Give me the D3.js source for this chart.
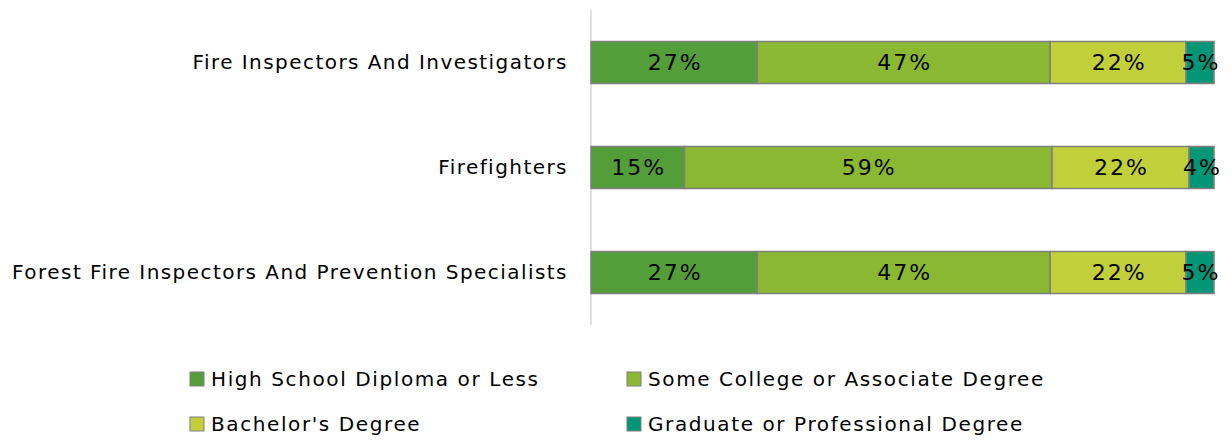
<!DOCTYPE html>
<html>
<head>
<meta charset="utf-8">
<script src="https://cdn.jsdelivr.net/npm/d3@7"></script>
<style>
  body { margin: 0; background: #fff; }
  svg text { font-family: "Century Gothic", "DejaVu Sans", sans-serif; fill: #000; }
</style>
</head>
<body>
<div id="chart"></div>
<script>
// dane
var categories = ["Fire Inspectors And Investigators", "Firefighters", "Forest Fire Inspectors And Prevention Specialists"];
var seriesNames = ["High School Diploma or Less", "Some College or Associate Degree", "Bachelor's Degree", "Graduate or Professional Degree"];
var highSchool = [26.8, 15.0, 26.8];
var someCollege = [47.2, 59.0, 47.2];
var bachelor = [21.9, 22.0, 21.9];
var graduate = [4.5, 4.0, 4.5];
var colors = ["#549E39", "#8AB833", "#C0CF3A", "#029676"];

var W = 1232, H = 440;
var margin = {top: 10, right: 18, bottom: 115, left: 591},
    width = W - margin.left - margin.right,
    height = H - margin.top - margin.bottom;

var rows = categories.map(function(c, i) {
  return {cat: c, s0: highSchool[i], s1: someCollege[i], s2: bachelor[i], s3: graduate[i]};
});
var keys = ["s0", "s1", "s2", "s3"];
var stacked = d3.stack().keys(keys).offset(d3.stackOffsetExpand)(rows);

var svg = d3.select("#chart").append("svg")
    .attr("width", W).attr("height", H);
var g = svg.append("g")
    .attr("transform", "translate(" + margin.left + "," + margin.top + ")");

var x = d3.scaleLinear().domain([0, 1]).range([0, 623]);
var y = d3.scaleBand().domain(categories).range([0, height]).paddingInner(0.6).paddingOuter(0.3);

// os Y
var yAxis = g.append("g").call(d3.axisLeft(y).tickSize(0).tickPadding(23));
yAxis.select(".domain").remove();
yAxis.selectAll("text").style("font-size", "20px").style("letter-spacing", "1.45px");
g.append("line")
  .attr("x1", 0).attr("x2", 0).attr("y1", 0).attr("y2", height)
  .attr("stroke", "#d9d9d9").attr("stroke-width", 1.5);

// slupki
var layer = g.selectAll(".layer").data(stacked).enter().append("g")
  .attr("fill", function(d, i) { return colors[i]; });

layer.selectAll("rect").data(function(d) { return d; }).enter().append("rect")
  .attr("x", function(d) { return x(d[0]); })
  .attr("y", function(d) { return y(d.data.cat); })
  .attr("width", function(d) { return x(d[1]) - x(d[0]); })
  .attr("height", y.bandwidth())
  .attr("stroke", "#7f7f7f").attr("stroke-width", 1.5);

layer.selectAll("text").data(function(d) {
    return d.map(function(p) { return {p: p, key: d.key}; });
  }).enter().append("text")
  .attr("x", function(d) { return (x(d.p[0]) + x(d.p[1])) / 2 + 1; })
  .attr("y", function(d) { return y(d.p.data.cat) + y.bandwidth() / 2; })
  .attr("dy", "0.36em")
  .attr("text-anchor", "middle")
  .style("font-size", "22px")
  .style("letter-spacing", "2px")
  .text(function(d) { return Math.round(d.p.data[d.key]) + "%"; });

// legenda
var legendPos = [[190, 379], [627, 379], [190, 424], [627, 424]];
var legend = svg.selectAll(".legend").data(seriesNames).enter().append("g")
  .attr("transform", function(d, i) { return "translate(" + legendPos[i][0] + "," + legendPos[i][1] + ")"; });
legend.append("rect")
  .attr("x", 0).attr("y", -7).attr("width", 14).attr("height", 14)
  .attr("fill", function(d, i) { return colors[i]; })
  .attr("stroke", "#7f7f7f").attr("stroke-width", 1);
legend.append("text")
  .attr("x", 21).attr("dy", "0.35em")
  .style("font-size", "20px")
  .style("letter-spacing", "1.6px")
  .text(function(d) { return d; });
</script>
</body>
</html>
